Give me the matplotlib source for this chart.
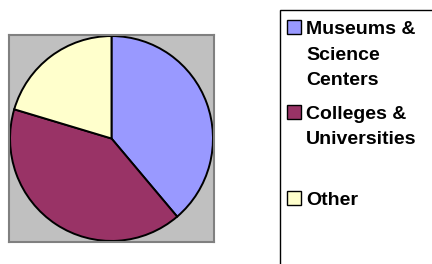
import matplotlib
matplotlib.use("Agg")
import matplotlib.pyplot as plt
import matplotlib.patches as mpatches

labels = ["Museums & Science Centers", "Colleges & Universities", "Other"]
label_lines = [["Museums &", "Science", "Centers"],
               ["Colleges &", "Universities"],
               ["Other"]]
shares = [38.8, 40.8, 20.4]
colors = ["#9999FF", "#993366", "#FFFFCC"]

W, H = 432, 264
fig = plt.figure(figsize=(W / 100, H / 100), dpi=100)

def px(x, y):
    # pixel coords (from top left) -> figure fraction
    return x / W, 1 - y / H

# plot area: grey square behind the pie
ax = fig.add_axes([9 / W, 22 / H, 205 / W, 207 / H])
ax.pie(shares, colors=colors, startangle=90, counterclock=False,
       radius=0.99, frame=True,
       wedgeprops=dict(edgecolor="black", linewidth=1.4))
ax.set_facecolor("#C0C0C0")
for s in ax.spines.values():
    s.set_visible(True)
    s.set_color("#808080")
    s.set_linewidth(1.5)
ax.set_xlim(-1, 1)
ax.set_ylim(-1, 1)
ax.set_aspect("auto")
ax.set_xticks([])
ax.set_yticks([])

# legend box, runs off the right and bottom edges
x0, y0 = px(279.5, 9.5)
fig.patches.append(mpatches.Rectangle((x0, -0.1), 0.5, y0 + 0.1,
                                      transform=fig.transFigure,
                                      facecolor="white", edgecolor="black",
                                      linewidth=1.0, zorder=0))

first_base = [34, 119, 205]
line_gap = 25.5
for lines, col, base in zip(label_lines, colors, first_base):
    mx, my = px(287, base)
    fig.patches.append(mpatches.Rectangle((mx, my), 14 / W, 14 / H,
                                          transform=fig.transFigure,
                                          facecolor=col, edgecolor="black",
                                          linewidth=1.0, zorder=2))
    for i, ln in enumerate(lines):
        tx, ty = px(306, base + i * line_gap)
        fig.text(tx, ty, ln, ha="left", va="baseline", fontsize=14,
                 fontweight="bold", family="Liberation Sans")

fig.savefig("out.png", dpi=100)
